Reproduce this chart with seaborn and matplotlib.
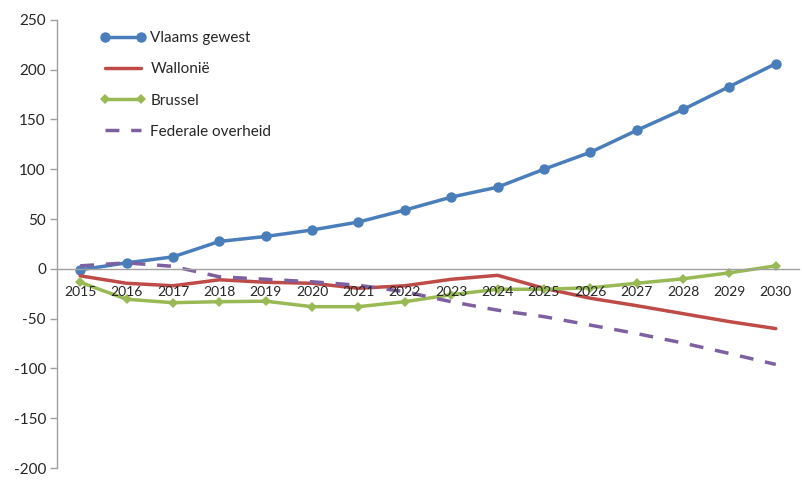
import matplotlib
matplotlib.use("Agg")
import matplotlib.pyplot as plt
import pandas as pd
import seaborn as sns

years = [str(y) for y in range(2015, 2031)]
vlaams = [-1, 6, 12, 27.5, 32.5, 39, 47, 59, 72, 82, 100, 117, 139, 160, 183, 206]
wallonie = [-7, -14.5, -17, -11, -13.5, -14.5, -19.5, -17, -10.5, -6.5, -19.5, -29.5, -37, -45, -53, -60]
brussel = [-13.5, -30.5, -34, -33, -32.5, -38, -38, -33, -26, -20.5, -20.5, -19, -14.5, -10, -4, 3]
federaal = [3, 6, 2.5, -8, -10.5, -13, -16.5, -23, -33, -41.5, -48, -56.5, -65, -74.5, -85, -96]
yticks = list(range(-200, 251, 50))

series = {
    "Vlaams gewest": vlaams,
    "Wallonië": wallonie,
    "Brussel": brussel,
    "Federale overheid": federaal,
}
df = pd.DataFrame(
    [(i, name, v) for name, vals in series.items() for i, v in enumerate(vals)],
    columns=["pos", "reeks", "waarde"],
)

sns.set_style("white")
plt.rcParams["font.family"] = ["Lato", "DejaVu Sans"]

fig = plt.figure(figsize=(8.03, 4.84), dpi=100)
ax = fig.add_axes([0.071, 0.033, 0.924, 0.926])

styles = {
    "Vlaams gewest": dict(color="#4A7EBB", marker="o", markersize=7.5, ls="-"),
    "Wallonië": dict(color="#BE4B48", marker=None, ls="-"),
    "Brussel": dict(color="#98B954", marker="D", markersize=5, ls="-"),
    "Federale overheid": dict(color="#7D60A0", marker=None, ls=(0, (4, 3.4))),
}
for name, st in styles.items():
    sub = df[df["reeks"] == name]
    sns.lineplot(data=sub, x="pos", y="waarde", ax=ax, label=name,
                 color=st["color"], marker=st["marker"],
                 markersize=st.get("markersize", 0), linestyle=st["ls"],
                 linewidth=2.5, markeredgewidth=0)

ax.set_xlim(-0.5, 15.5)
ax.set_ylim(-200, 250)
ax.set_yticks(yticks)
ax.set_yticklabels([str(t) for t in yticks], fontsize=11, color="#262626")
ax.set_xticks(range(len(years)))
ax.set_xticklabels(years, fontsize=10.5, color="#262626")
ax.set_xticks([i + 0.5 for i in range(-1, len(years))], minor=True)
ax.tick_params(axis="x", which="major", length=0, pad=12)
ax.tick_params(axis="x", which="minor", length=5, direction="in", color="#A0A0A0", width=1)
ax.tick_params(axis="y", length=5, direction="out", color="#A0A0A0", width=1, pad=3, left=True)
ax.set_xlabel("")
ax.set_ylabel("")
ax.set_axisbelow(False)

for s in ["top", "right"]:
    ax.spines[s].set_visible(False)
ax.spines["bottom"].set_position(("data", 0))
ax.spines["bottom"].set_color("#A0A0A0")
ax.spines["left"].set_color("#A0A0A0")
ax.spines["left"].set_linewidth(1)
ax.spines["bottom"].set_linewidth(1)

ax.legend(loc="upper left", bbox_to_anchor=(0.125, 0.936), bbox_transform=fig.transFigure,
          frameon=False, fontsize=11, numpoints=2, handlelength=2.95,
          labelspacing=1.13, handletextpad=0.33, borderpad=0, borderaxespad=0)

fig.savefig("out.png", dpi=100)
